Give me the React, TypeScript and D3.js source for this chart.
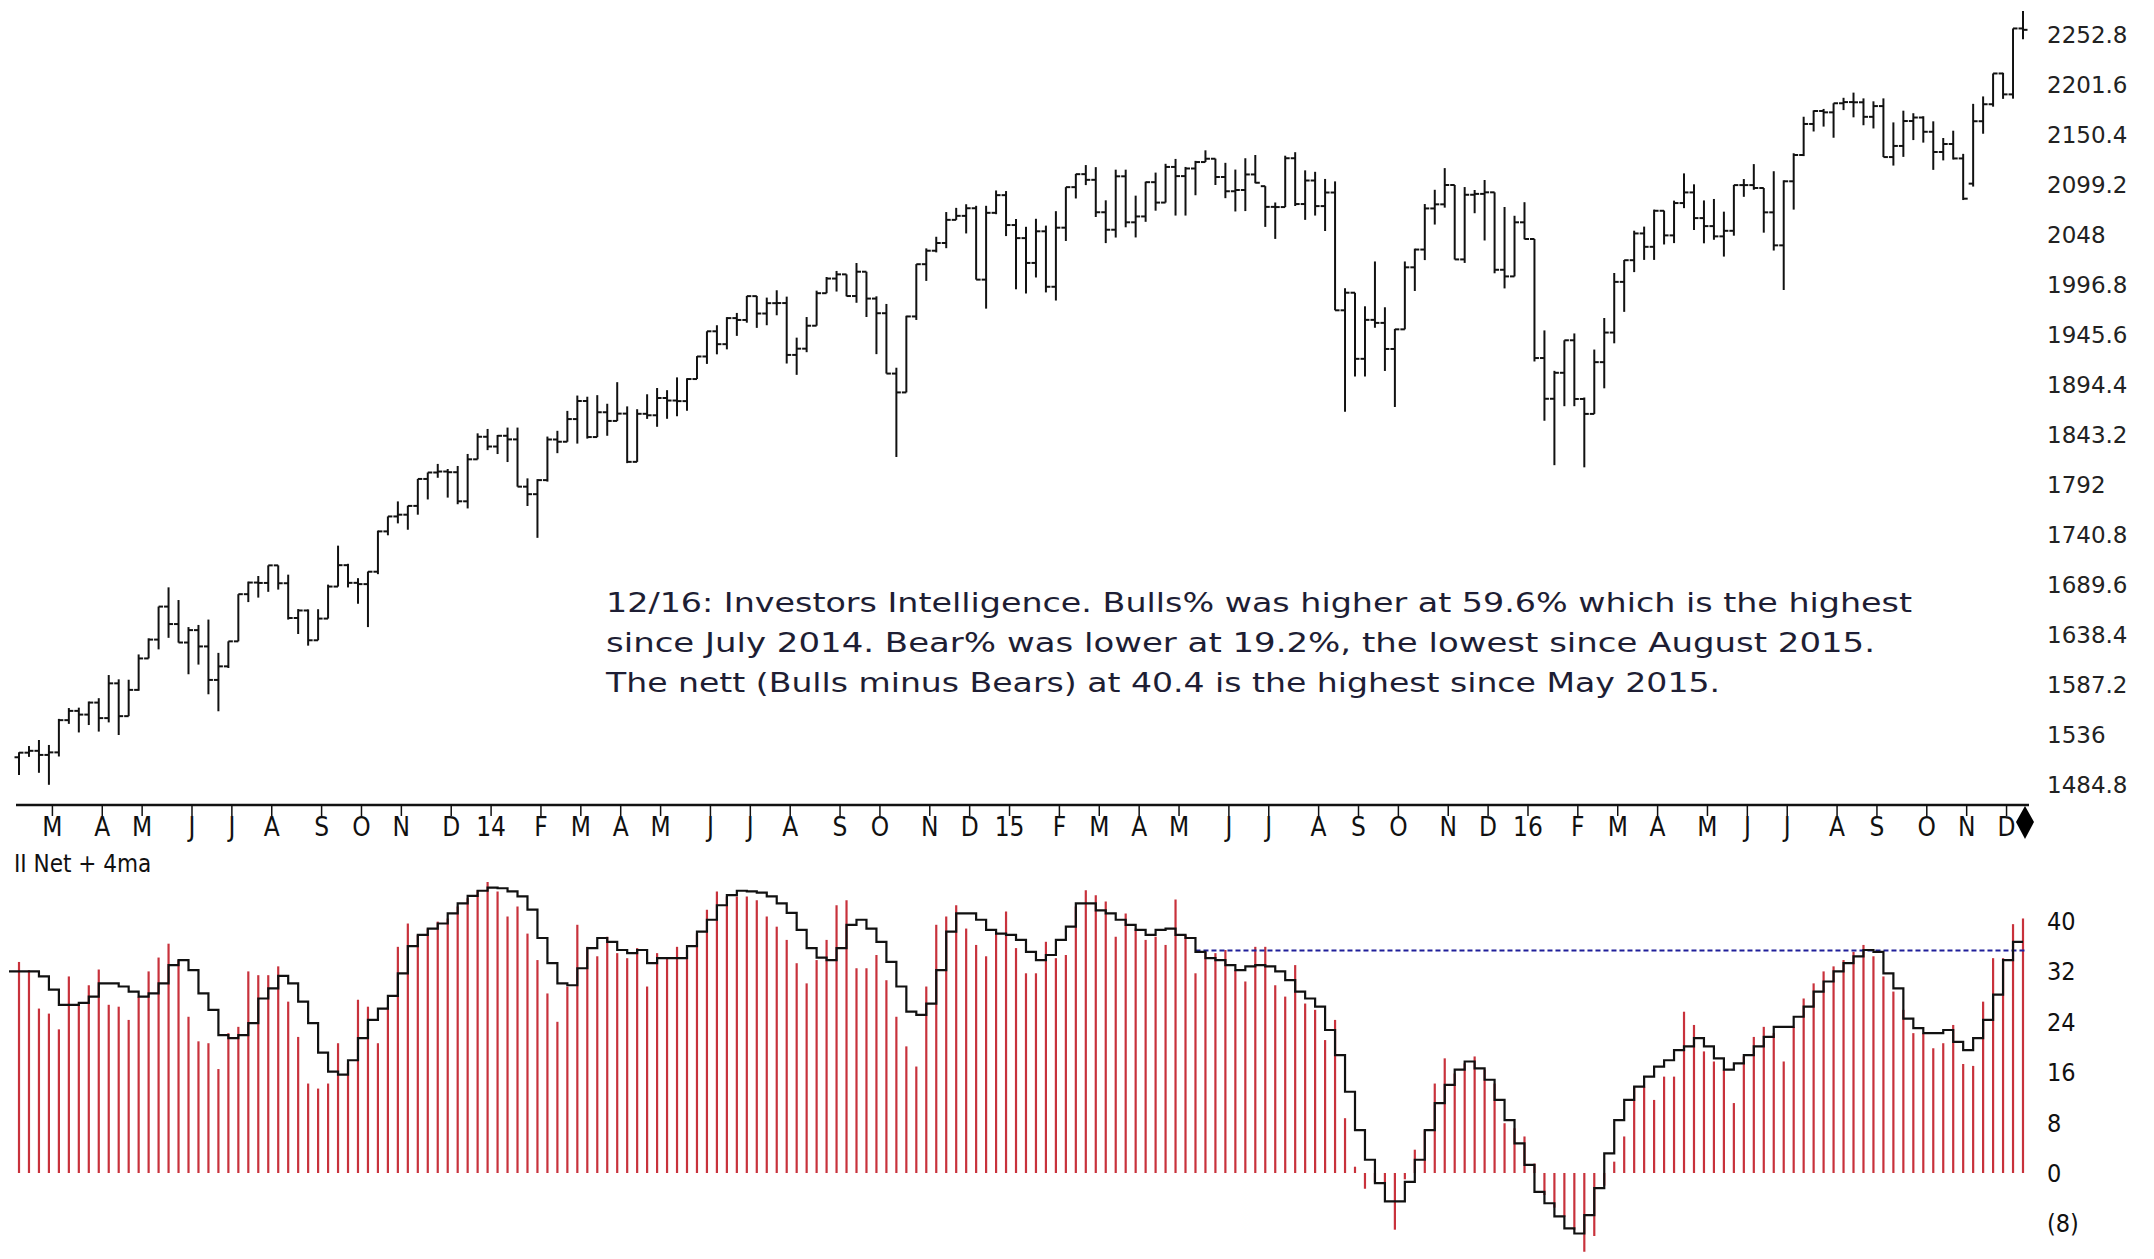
import React, { useEffect } from 'react';
import * as d3 from 'd3';

// ---------- DATA ----------
const START_DATE = new Date(2013, 1, 8); // first weekly bar (Fri 8 Feb 2013), one bar per week

const openVals = [
  1513.2,1517.9,1519.8,1515.6,1518.2,1551.2,1560.7,1556.9,1569.2,1553.3,
  1588.9,1555.3,1582.2,1614.4,1633.7,1667.5,1649.6,1630.7,1643.4,1626.7,
  1592.4,1606.3,1631.9,1680.2,1692.1,1691.7,1709.7,1691.4,1655.8,1663.5,
  1633.0,1655.2,1688.0,1709.9,1691.8,1690.5,1703.2,1744.5,1759.8,1761.6,
  1770.6,1798.2,1804.8,1805.8,1805.1,1775.3,1818.3,1841.4,1831.4,1842.4,
  1838.7,1790.3,1782.6,1797.0,1838.6,1836.3,1859.5,1878.0,1841.1,1866.5,
  1857.6,1865.1,1815.7,1864.9,1863.4,1881.1,1878.5,1877.9,1900.5,1923.6,
  1949.4,1936.2,1962.9,1961.0,1985.4,1967.6,1978.2,1978.3,1925.2,1931.6,
  1955.1,1988.4,2003.4,2007.7,1985.5,2010.4,1982.9,1967.9,1906.1,1886.8,
  1964.6,2018.1,2031.9,2039.8,2063.5,2067.6,2075.4,2002.3,2070.7,2088.8,
  2058.2,2044.8,2019.4,2051.8,1995.0,2055.5,2097.0,2110.3,2104.5,2071.3,
  2053.4,2108.1,2061.0,2067.0,2102.1,2081.2,2117.7,2108.3,2116.1,2122.7,
  2126.1,2107.4,2092.8,2094.1,2110.0,2098.0,2076.8,2076.6,2126.6,2079.7,
  2103.8,2077.6,2091.5,1970.9,1988.9,1921.2,1961.1,1958.0,1931.3,1951.4,
  2014.9,2033.1,2075.2,2079.4,2099.2,2023.0,2089.2,2090.1,2091.7,2012.4,
  2005.6,2061.0,2043.9,1922.0,1880.3,1906.9,1940.2,1880.1,1864.8,1917.8,
  1948.1,2000.0,2022.2,2049.6,2035.9,2072.8,2047.6,2080.7,2091.6,2065.3,
  2057.1,2046.6,2052.3,2099.1,2099.1,2096.1,2071.2,2037.4,2103.0,2129.9,
  2161.7,2175.0,2173.6,2182.9,2184.1,2183.9,2169.0,2180.0,2127.8,2139.2,
  2164.7,2168.3,2153.7,2133.0,2141.2,2126.4,2100.6,2164.5,2181.9,2213.4,
  2192.0,2259.5,
];

const highVals = [
  1518.3,1524.7,1530.9,1525.8,1552.5,1563.6,1564.0,1570.3,1573.7,1597.4,
  1593.0,1592.6,1618.5,1635.0,1667.5,1687.2,1674.2,1646.5,1648.7,1654.2,
  1620.1,1631.9,1680.2,1693.1,1698.8,1709.7,1709.7,1700.2,1664.9,1664.6,
  1664.8,1690.0,1729.9,1711.3,1696.6,1703.4,1745.3,1759.8,1775.2,1770.8,
  1798.2,1804.8,1813.6,1808.4,1811.5,1823.8,1844.9,1849.4,1843.2,1850.8,
  1850.8,1798.8,1798.0,1841.6,1847.5,1867.9,1883.6,1882.4,1884.0,1875.2,
  1897.3,1872.5,1869.6,1884.9,1891.3,1889.1,1902.2,1901.3,1924.0,1949.4,
  1955.6,1963.9,1968.2,1985.6,1985.6,1983.9,1991.4,1984.9,1942.9,1964.0,
  1991.0,2005.0,2011.2,2007.7,2019.3,2010.4,1985.2,1977.4,1912.1,1965.3,
  2018.2,2034.3,2046.2,2071.5,2075.8,2079.5,2077.9,2077.9,2093.6,2093.0,
  2064.4,2056.4,2064.6,2057.6,2072.4,2097.0,2110.6,2119.6,2117.5,2083.5,
  2114.9,2114.9,2088.3,2102.6,2111.9,2120.9,2125.9,2117.7,2123.9,2134.7,
  2126.2,2121.9,2115.0,2126.6,2129.9,2098.0,2081.3,2129.2,2132.8,2114.2,
  2112.7,2105.4,2102.9,1993.5,1988.9,1975.0,2020.9,1974.0,1951.8,2020.9,
  2034.0,2079.7,2094.3,2116.5,2099.2,2097.1,2094.1,2104.3,2091.7,2076.7,
  2067.7,2081.6,2043.9,1950.3,1908.9,1940.2,1947.2,1881.6,1930.7,1963.0,
  2009.1,2022.4,2052.4,2056.6,2074.0,2073.0,2083.2,2111.1,2099.9,2083.4,
  2084.9,2071.9,2099.3,2105.3,2120.6,2096.1,2113.3,2104.0,2131.7,2169.1,
  2175.6,2177.1,2182.9,2188.5,2193.8,2187.9,2184.9,2187.9,2163.3,2175.3,
  2172.7,2169.6,2164.4,2147.3,2154.8,2131.1,2182.3,2189.9,2213.4,2214.1,
  2259.5,2277.5,
];

const lowVals = [
  1495.0,1513.6,1497.3,1485.0,1514.0,1547.4,1538.6,1546.2,1539.5,1548.9,
  1536.0,1555.3,1581.3,1614.4,1623.7,1635.5,1630.6,1598.2,1608.1,1577.7,
  1560.3,1604.6,1631.9,1672.1,1676.7,1682.6,1684.9,1654.2,1639.4,1627.5,
  1633.0,1655.2,1688.0,1687.1,1670.4,1646.5,1700.7,1740.5,1752.7,1746.2,
  1761.6,1777.2,1799.4,1779.1,1772.3,1768.0,1818.3,1827.7,1823.7,1815.5,
  1790.3,1770.5,1737.9,1795.5,1824.6,1836.3,1834.4,1839.5,1841.1,1842.4,
  1857.6,1814.4,1815.7,1859.7,1851.6,1859.8,1862.4,1868.1,1900.5,1916.0,
  1925.8,1930.9,1944.7,1958.2,1952.9,1955.6,1965.8,1916.4,1904.8,1928.0,
  1955.1,1988.4,1990.1,1985.2,1978.6,1964.0,1926.0,1906.1,1820.7,1886.8,
  1961.0,2001.0,2030.2,2034.5,2063.5,2049.6,2002.3,1972.6,2069.3,2046.9,
  1992.4,1988.1,2004.5,1989.2,1980.9,2041.9,2085.4,2099.1,2066.4,2039.7,
  2045.4,2055.9,2045.5,2061.5,2072.9,2081.2,2067.9,2067.9,2088.7,2122.7,
  2099.2,2085.7,2072.1,2072.5,2101.0,2056.3,2044.0,2076.6,2077.7,2063.5,
  2067.9,2052.1,1970.9,1867.0,1903.1,1903.1,1953.0,1908.8,1871.9,1951.4,
  1990.7,2022.3,2058.7,2076.0,2022.9,2019.4,2070.3,2042.4,2008.8,1993.3,
  2005.6,2043.6,1918.5,1857.8,1812.3,1872.7,1872.7,1810.1,1864.8,1891.0,
  1937.1,1969.3,2010.0,2022.5,2022.5,2038.3,2039.7,2075.5,2053.1,2039.5,
  2043.1,2025.9,2047.3,2087.1,2094.3,2050.4,2032.1,1991.7,2074.0,2128.8,
  2154.0,2159.0,2147.6,2175.9,2168.5,2160.4,2157.1,2127.8,2119.1,2128.0,
  2145.2,2142.6,2114.7,2124.4,2125.3,2083.8,2097.6,2151.7,2179.4,2187.4,
  2187.6,2248.4,
];

const closeVals = [
  1517.9,1519.8,1515.6,1518.2,1551.2,1560.7,1556.9,1569.2,1553.3,1588.9,
  1555.3,1582.2,1614.4,1633.7,1667.5,1649.6,1630.7,1643.4,1626.7,1592.4,
  1606.3,1631.9,1680.2,1692.1,1691.7,1709.7,1691.4,1655.8,1663.5,1633.0,
  1655.2,1688.0,1709.9,1691.8,1690.5,1703.2,1744.5,1759.8,1761.6,1770.6,
  1798.2,1804.8,1805.8,1805.1,1775.3,1818.3,1841.4,1831.4,1842.4,1838.7,
  1790.3,1782.6,1797.0,1838.6,1836.3,1859.5,1878.0,1841.1,1866.5,1857.6,
  1865.1,1815.7,1864.9,1863.4,1881.1,1878.5,1877.9,1900.5,1923.6,1949.4,
  1936.2,1962.9,1961.0,1985.4,1967.6,1978.2,1978.3,1925.2,1931.6,1955.1,
  1988.4,2003.4,2007.7,1985.5,2010.4,1982.9,1967.9,1906.1,1886.8,1964.6,
  2018.1,2031.9,2039.8,2063.5,2067.6,2075.4,2002.3,2070.7,2088.8,2058.2,
  2044.8,2019.4,2051.8,1995.0,2055.5,2097.0,2110.3,2104.5,2071.3,2053.4,
  2108.1,2061.0,2067.0,2102.1,2081.2,2117.7,2108.3,2116.1,2122.7,2126.1,
  2107.4,2092.8,2094.1,2110.0,2101.5,2076.8,2076.6,2126.6,2079.7,2103.8,
  2077.6,2091.5,1970.9,1988.9,1921.2,1961.1,1958.0,1931.3,1951.4,2014.9,
  2033.1,2075.2,2079.4,2099.2,2023.0,2089.2,2090.1,2091.7,2012.4,2005.6,
  2061.0,2043.9,1922.0,1880.3,1906.9,1940.2,1880.1,1864.8,1917.8,1948.1,
  2000.0,2022.2,2049.6,2035.9,2072.8,2047.6,2080.7,2091.6,2065.3,2057.1,
  2046.6,2052.3,2099.1,2099.1,2096.1,2071.2,2037.4,2103.0,2129.9,2161.7,
  2175.0,2173.6,2182.9,2184.1,2183.9,2169.0,2180.0,2127.8,2139.2,2164.7,
  2168.3,2153.7,2133.0,2141.2,2126.4,2085.2,2164.5,2181.9,2213.4,2192.0,
  2259.5,2258.1,
];

// Investors Intelligence net (bulls - bears), weekly
const netVals = [
  33.5,32.2,26.1,25.3,22.8,31.2,26.9,29.8,32.3,26.7,
  26.4,24.3,28.0,32.0,34.2,36.4,33.8,24.8,20.9,20.6,
  16.5,22.2,23.2,32.0,31.4,31.4,32.8,27.2,21.6,14.2,
  13.4,14.2,20.6,17.4,27.5,26.4,20.6,26.4,35.9,39.6,
  37.8,38.8,39.9,40.4,42.3,43.6,44.9,46.2,44.7,40.7,
  42.3,38.0,33.8,28.5,24.0,29.6,39.4,35.9,34.4,37.5,
  34.9,34.1,35.7,29.6,34.9,34.1,35.9,35.4,38.0,41.8,
  44.7,43.9,43.9,43.9,43.3,40.7,39.1,37.0,33.3,30.1,
  33.8,37.0,42.5,43.3,32.5,32.5,34.6,30.6,24.8,20.1,
  16.9,29.6,39.4,40.7,42.5,38.8,36.2,34.4,38.3,41.5,
  35.7,31.7,31.7,36.7,34.1,34.6,42.3,44.9,44.1,43.1,
  37.5,41.2,38.8,37.0,37.5,36.2,43.4,37.8,31.7,35.1,
  34.9,35.4,32.2,30.4,35.9,35.9,29.8,28.0,33.0,26.9,
  25.9,21.1,24.3,8.7,1.0,-2.5,-1.5,-1.5,-9.0,-1.0,
  3.7,6.8,14.2,18.2,15.8,17.4,18.5,16.4,14.2,7.9,
  7.1,5.8,1.5,-3.5,-5.5,-7.0,-9.0,-12.5,-10.0,-2.0,
  1.8,5.8,13.7,13.7,11.6,15.3,15.3,25.6,23.5,19.3,
  17.7,16.4,11.1,18.5,21.6,23.2,22.2,17.7,23.2,27.7,
  30.1,32.0,32.8,33.8,35.1,36.2,34.4,31.2,28.8,25.9,
  22.2,22.2,19.8,20.6,23.5,17.3,17.0,27.2,34.1,34.1,
  39.5,40.4,
];

// 4-week moving average line as drawn
const netMA = [
  32.0,32.0,32.0,31.2,29.1,26.7,26.7,27.0,28.0,30.1,
  30.1,29.6,28.8,28.0,28.5,30.1,33.0,33.8,32.2,28.5,
  25.9,21.9,21.4,21.9,23.8,27.7,29.3,31.3,30.1,27.2,
  23.8,19.1,16.1,15.6,17.9,21.4,24.3,26.1,28.1,31.7,
  36.0,37.8,38.8,39.6,41.2,42.8,44.0,44.8,45.3,45.2,
  44.7,43.9,41.8,37.3,33.3,30.1,29.8,32.5,35.7,37.3,
  36.7,35.4,34.9,35.4,33.3,34.1,34.1,34.1,36.0,38.3,
  40.2,42.5,44.1,44.8,44.7,44.5,43.9,42.8,41.3,38.6,
  35.7,34.2,33.8,35.7,39.4,40.2,38.8,36.7,33.5,29.6,
  25.6,25.1,26.9,32.2,38.3,41.2,41.2,40.2,38.6,38.0,
  37.8,37.0,35.1,33.8,34.6,37.0,39.1,42.8,42.8,41.7,
  41.2,40.2,39.4,38.6,37.8,38.6,38.8,37.8,37.3,35.1,
  34.1,33.8,33.0,32.2,32.8,33.0,32.8,32.0,30.6,28.8,
  27.7,26.4,22.7,18.7,12.9,6.8,2.1,-1.6,-4.5,-4.5,
  -1.4,2.1,6.8,11.1,14.0,16.4,17.7,16.6,14.8,11.6,
  8.4,4.7,1.3,-3.0,-4.8,-6.9,-8.8,-9.6,-6.7,-2.4,
  3.1,8.4,11.6,13.7,15.3,16.9,17.9,19.5,20.1,21.4,
  20.1,18.2,16.4,17.4,18.7,20.1,21.6,23.2,23.2,24.8,
  26.4,28.8,30.4,32.0,33.3,34.4,35.4,35.1,31.7,29.3,
  24.5,23.0,22.2,22.2,22.7,20.8,19.5,21.4,24.3,28.3,
  33.8,36.7,
];

const priceTicks = [1484.8,1536,1587.2,1638.4,1689.6,1740.8,1792,1843.2,1894.4,1945.6,1996.8,2048,2099.2,2150.4,2201.6,2252.8];
const netTicks = [40,32,24,16,8,0,-8];
const monthLetters = ['J','F','M','A','M','J','J','A','S','O','N','D'];
const refLevel = 35.3;
const refStartIndex = 118;
const panelTitle = 'II Net + 4ma';
const noteLines = [
  '12/16: Investors Intelligence. Bulls% was higher at 59.6% which is the highest',
  'since July 2014. Bear% was lower at 19.2%, the lowest since August 2015.',
  'The nett (Bulls minus Bears) at 40.4 is the highest since May 2015.',
];
const noteWidths = [1306, 1269, 1114];

// ---------- CHART ----------
export default function App() {
  useEffect(() => {
    document.body.style.margin = '0';
    document.body.style.overflow = 'hidden';
  }, []);

  const W = 2154, H = 1259;
  const n = closeVals.length;
  const dates = d3.range(n).map(i => d3.timeDay.offset(START_DATE, 7 * i));
  const x = d3.scaleLinear().domain([0, n - 1]).range([19, 2023]);
  const step = x(1) - x(0);
  const yP = d3.scaleLinear().domain([1484.8, 2252.8]).range([785, 35]);
  const yN = d3.scaleLinear().domain([-8, 40]).range([1223.4, 921]);

  const axisY = 805;
  const tickLen = 4.5;

  const monthTicks: { i: number; label: string }[] = [];
  for (let i = 1; i < n; i++) {
    if (dates[i].getMonth() !== dates[i - 1].getMonth()) {
      const m = dates[i].getMonth();
      const label = m === 0 ? String(dates[i].getFullYear() % 100).padStart(2, '0') : monthLetters[m];
      monthTicks.push({ i, label });
    }
  }

  const maPoints: [number, number][] = [[x(0) - step, yN(netMA[0])], ...netMA.map((v, i) => [x(i), yN(v)] as [number, number])];
  const maPath = d3.line().curve(d3.curveStepBefore)(maPoints) || '';

  const fmt = (v: number) => (Math.round(v * 10) / 10).toString();
  const narrow = '"Liberation Sans Narrow", "DejaVu Sans Condensed", "Arial Narrow", sans-serif';
  const dejavu = '"DejaVu Sans", Verdana, sans-serif';

  const xEnd = x(n - 1);

  return (
    <svg width={W} height={H} style={{ position: 'absolute', left: 0, top: 0, background: '#fff' }}>
      <rect x={0} y={0} width={W} height={H} fill="#fff" />

      {/* OHLC bars */}
      <g stroke="#111" strokeWidth={2} fill="none">
        {closeVals.map((c, i) => {
          const cx = x(i);
          return (
            <g key={i}>
              <line x1={cx} x2={cx} y1={yP(highVals[i])} y2={yP(lowVals[i])} />
              <line x1={cx - tickLen} x2={cx} y1={yP(openVals[i])} y2={yP(openVals[i])} />
              <line x1={cx} x2={cx + tickLen} y1={yP(c)} y2={yP(c)} />
            </g>
          );
        })}
      </g>

      {/* price axis labels */}
      <g fontFamily={dejavu} fontSize={23} fill="#222">
        {priceTicks.map(t => (
          <text key={t} x={2047} y={yP(t)} dy="0.36em">{fmt(t)}</text>
        ))}
      </g>

      {/* annotation */}
      <g fontFamily={dejavu} fontSize={27.3} fill="#1e1e34">
        {noteLines.map((s, k) => (
          <text key={k} x={606} y={612 + k * 40} textLength={noteWidths[k]} lengthAdjust="spacingAndGlyphs">{s}</text>
        ))}
      </g>

      {/* x axis */}
      <line x1={16} x2={xEnd + 6} y1={axisY} y2={axisY} stroke="#111" strokeWidth={2.5} />
      <g stroke="#111" strokeWidth={1.5}>
        {monthTicks.map(t => (
          <line key={t.i} x1={x(t.i) + 3.5} x2={x(t.i) + 3.5} y1={axisY} y2={axisY + 11} />
        ))}
      </g>
      <g fontFamily={narrow} fontSize={26} fill="#111" textAnchor="middle">
        {monthTicks.map(t => (
          <text key={t.i} x={x(t.i) + 3.5} y={836}>{t.label}</text>
        ))}
      </g>
      <path d={`M${xEnd + 2},${axisY + 1} L${xEnd + 11},${axisY + 17} L${xEnd + 2},${axisY + 34} L${xEnd - 7},${axisY + 17} Z`} fill="#000" />

      {/* lower panel */}
      <text x={14} y={872} fontFamily={narrow} fontSize={24} fill="#111">{panelTitle}</text>

      <g stroke="#c8323c" strokeWidth={2.2}>
        {netVals.map((v, i) => (
          <line key={i} x1={x(i)} x2={x(i)} y1={yN(0)} y2={yN(v)} />
        ))}
      </g>

      <line x1={x(refStartIndex)} x2={xEnd + 2} y1={yN(refLevel)} y2={yN(refLevel)} stroke="#1f1f9a" strokeWidth={2} strokeDasharray="5,3" />

      <path d={maPath} fill="none" stroke="#111" strokeWidth={2.2} />

      <g fontFamily={narrow} fontSize={25} fill="#111">
        {netTicks.map(t => (
          <text key={t} x={2047} y={yN(t)} dy="0.36em">{t < 0 ? `(${-t})` : String(t)}</text>
        ))}
      </g>
    </svg>
  );
}
